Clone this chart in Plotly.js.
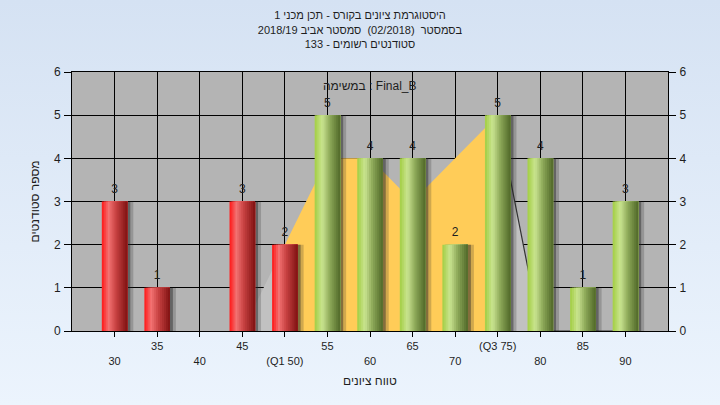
<!DOCTYPE html>
<html><head><meta charset="utf-8">
<script src="https://cdn.plot.ly/plotly-3.0.1.min.js"></script>
<style>
html,body{margin:0;padding:0;width:720px;height:405px;overflow:hidden;background:linear-gradient(#d5e2f3,#ecf4fd);}
#chart{width:720px;height:405px;}
</style></head><body><div id="chart"></div>
<script>
// ---- data ----
const grades = [30,35,40,45,50,55,60,65,70,75,80,85,90];
const tickLabels = ['30','35','40','45','(Q1 50)','55','60','65','70','(Q3 75)','80','85','90'];
const counts = [3,1,0,3,2,5,4,4,2,5,4,1,3];
const areaValues = [0,0,0,0,2,4,4,3,4,5,0,0,0];
const passGrade = 55;
const titleLines = ['היסטוגרמת ציונים בקורס - תכן מכני 1','בסמסטר \u00a0(02/2018) \u00a0סמסטר אביב 2018/19','סטודנטים רשומים - 133'];
const taskLabel = 'במשימה : Final_B';
const xTitle = 'טווח ציונים';
const yTitle = 'מספר סטודנטים';
const yTicks = [0,1,2,3,4,5,6];

// ---- style ----
const FONT = 'Liberation Sans, Arial, DejaVu Sans, sans-serif';
const TXT = '#1e1e1e';
const BAR_W = 3;
const N_STRIPES = 13;
const redStops = [[0,[255,22,22]],[0.27,[242,114,114]],[0.55,[200,66,66]],[1,[128,18,18]]];
const greenStops = [[0,[162,206,66]],[0.3,[202,228,145]],[0.6,[140,168,88]],[1,[80,104,40]]];
function lerp(stops,t){
  for(let i=0;i<stops.length-1;i++){
    const [t0,c0]=stops[i],[t1,c1]=stops[i+1];
    if(t<=t1){const f=(t-t0)/(t1-t0);return 'rgb('+c0.map((v,k)=>Math.round(v+(c1[k]-v)*f)).join(',')+')';}
  }
  const c=stops[stops.length-1][1];return 'rgb('+c.join(',')+')';
}
const q1 = tickLabels.findIndex(s=>s.includes('Q1'));
const q3 = tickLabels.findIndex(s=>s.includes('Q3'));

const traces = [];
// areas on base subplot (below bars)
traces.push({type:'scatter',x:grades.slice(0,q1+1),y:areaValues.slice(0,q1+1),mode:'lines',fill:'tozeroy',
  fillcolor:'#c1c1c1',line:{width:0},hoverinfo:'skip',xaxis:'x',yaxis:'y'});
traces.push({type:'scatter',x:grades.slice(q1,q3+1),y:areaValues.slice(q1,q3+1),mode:'lines',fill:'tozeroy',
  fillcolor:'#ffcc58',line:{width:0},hoverinfo:'skip',xaxis:'x',yaxis:'y'});
traces.push({type:'scatter',x:grades.slice(q3),y:areaValues.slice(q3),mode:'lines',fill:'tozeroy',
  fillcolor:'#c1c1c1',line:{width:1.2,color:'#333333'},hoverinfo:'skip',xaxis:'x',yaxis:'y'});
// shadows
[[0.35,'rgba(40,40,40,0.45)'],[0.7,'rgba(40,40,40,0.22)']].forEach(([dx,c])=>{
  traces.push({type:'bar',x:grades,y:counts,width:BAR_W,offset:-BAR_W/2+dx,marker:{color:c,line:{width:0}},
    hoverinfo:'skip',xaxis:'x2',yaxis:'y2'});
});
// cylinder-like bars: layered stripes, each reaching the bar's right edge
for(let k=0;k<N_STRIPES;k++){
  const t=(k+0.5)/N_STRIPES;
  traces.push({type:'bar',x:grades,y:counts,width:BAR_W-k*BAR_W/N_STRIPES,offset:-BAR_W/2+k*BAR_W/N_STRIPES,
    marker:{color:grades.map(g=>g>=passGrade?lerp(greenStops,t):lerp(redStops,t)),line:{width:0}},
    hoverinfo:'skip',xaxis:'x2',yaxis:'y2'});
}
// value labels
traces.push({type:'scatter',mode:'markers+text',x:grades,y:counts,text:counts.map(v=>v?String(v):''),
  marker:{size:7,color:'rgba(0,0,0,0)'},
  textposition:'top center',textfont:{family:FONT,size:12,color:TXT},cliponaxis:false,hoverinfo:'skip',xaxis:'x2',yaxis:'y2'});

const layout = {
  width:720,height:405,showlegend:false,barmode:'overlay',
  paper_bgcolor:'rgba(0,0,0,0)',plot_bgcolor:'#b4b4b4',
  margin:{l:72,r:52,t:72,b:74},
  font:{family:FONT,color:TXT},
  title:{text:titleLines.join('<br>'),font:{family:FONT,size:11,color:TXT},x:0.5,xref:'container',y:0.952,yref:'container',yanchor:'top'},
  xaxis:{range:[25,95],tickmode:'array',tickvals:grades,ticktext:tickLabels.map((s,i)=>i%2?s:''),
    ticks:'outside',ticklen:5,tickcolor:'#000',showline:true,linecolor:'#000',mirror:true,
    showgrid:true,gridcolor:'#000',gridwidth:1,zeroline:false,tickfont:{size:11,color:TXT},fixedrange:true},
  xaxis2:{overlaying:'x',anchor:'y2',range:[25,95],tickmode:'array',tickvals:grades,ticktext:tickLabels.map((s,i)=>i%2?'':s),
    ticks:'',showline:false,showgrid:false,zeroline:false,ticklabelstandoff:22,tickfont:{size:11,color:TXT}},
  yaxis:{range:[0,6],tickmode:'array',tickvals:yTicks,ticks:'outside',ticklen:7,tickcolor:'#000',showline:true,linecolor:'#000',
    showgrid:true,gridcolor:'#000',gridwidth:1,zeroline:false,tickfont:{size:12,color:TXT},ticklabelstandoff:1},
  yaxis2:{overlaying:'y',side:'right',anchor:'x2',range:[0,6],tickmode:'array',tickvals:yTicks,ticks:'outside',ticklen:7,tickcolor:'#000',
    showline:true,linecolor:'#000',showgrid:false,zeroline:false,tickfont:{size:12,color:TXT},ticklabelstandoff:1},
  annotations:[
    {text:taskLabel,xref:'paper',yref:'paper',x:0.5,y:1,yanchor:'top',yshift:-5,showarrow:false,font:{size:12,color:TXT}},
    {text:xTitle,xref:'paper',yref:'paper',x:0.5,y:0,yanchor:'middle',yshift:-50,showarrow:false,font:{size:12,color:TXT}},
    {text:yTitle,xref:'paper',yref:'paper',x:0,xshift:-38,xanchor:'center',y:0.5,textangle:-90,showarrow:false,font:{size:12,color:TXT}}
  ]
};
Plotly.newPlot('chart',traces,layout,{staticPlot:true,displayModeBar:false});
</script></body></html>
